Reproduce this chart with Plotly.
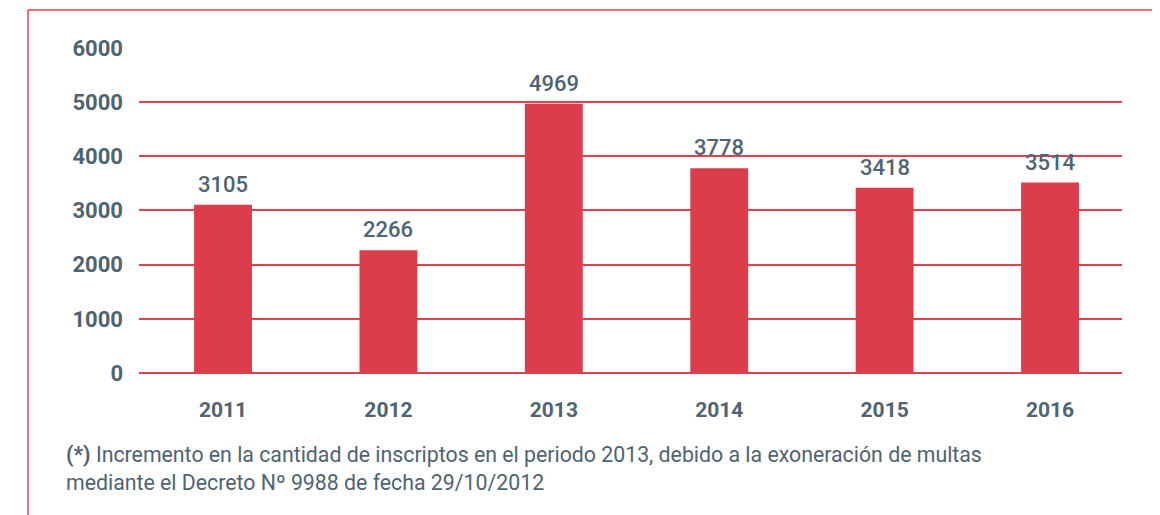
import plotly.graph_objects as go

years = ["2011", "2012", "2013", "2014", "2015", "2016"]
inscriptos = [3105, 2266, 4969, 3778, 3418, 3514]
y_ticks = [0, 1000, 2000, 3000, 4000, 5000, 6000]
footnote_mark = "(*)"
footnote_text = ("Incremento en la cantidad de inscriptos en el periodo 2013, debido a la exoneración de multas"
                 "<br>mediante el Decreto Nº 9988 de fecha 29/10/2012")

RED = "#dc3d4a"
GRID = "#e43f4e"
TEXT = "#4e6472"
FONT = "Roboto, sans-serif"

# page body adds an 8px margin; work in reference pixels and shift
OFF = 8
W, H = 1160 - OFF, 515 - OFF
L, T = 139 - OFF, 47 - OFF
R = 1160 - 1122
B = 515 - 373
pw, ph = W - L - R, H - T - B

def px_x(p):
    return (p - OFF - L) / pw

def px_y(p):
    return (H - B - (p - OFF)) / ph

fig = go.Figure(go.Bar(
    x=years, y=inscriptos,
    marker=dict(color=RED, line=dict(width=0)),
    width=0.35,
    hoverinfo="x+y",
))

# value labels above bars (category index = position on category axis)
label_annotations = [
    dict(x=i, y=v, xref="x", yref="y", text=str(v), showarrow=False,
         xanchor="center", yanchor="bottom", yshift=6,
         font=dict(family=FONT, size=22, color=TEXT, weight=500))
    for i, v in enumerate(inscriptos)
]

fig.update_layout(
    width=W, height=H,
    margin=dict(l=L, r=R, t=T, b=B),
    paper_bgcolor="white", plot_bgcolor="white",
    showlegend=False,
    xaxis=dict(
        type="category", categoryorder="array", categoryarray=years,
        range=[-0.508, 5.435],
        showgrid=False, zeroline=False, showline=False, ticks="",
        tickfont=dict(family=FONT, size=21, color=TEXT, weight="bold"),
        ticklabelstandoff=22,
    ),
    yaxis=dict(
        range=[0, 6015], tickvals=y_ticks,
        showgrid=True, gridcolor=GRID, gridwidth=1.5,
        zeroline=True, zerolinecolor=GRID, zerolinewidth=1.5,
        showline=False, ticks="",
        tickfont=dict(family=FONT, size=22, color=TEXT, weight="bold"),
        ticklabelstandoff=15,
    ),
    shapes=[
        dict(type="line", xref="paper", yref="paper",
             x0=px_x(28), x1=px_x(1160), y0=px_y(10), y1=px_y(10),
             line=dict(color=GRID, width=1.5)),
        dict(type="line", xref="paper", yref="paper",
             x0=px_x(28), x1=px_x(28), y0=px_y(10), y1=px_y(515),
             line=dict(color=GRID, width=1.5)),
    ],
    annotations=label_annotations + [
        dict(xref="paper", yref="paper", x=px_x(64), y=px_y(440),
             xanchor="left", yanchor="top", align="left", showarrow=False,
             text=f"<b>{footnote_mark}</b> {footnote_text}",
             font=dict(family=FONT, size=21.3, color=TEXT)),
    ],
)

fig.write_html("out.html")
